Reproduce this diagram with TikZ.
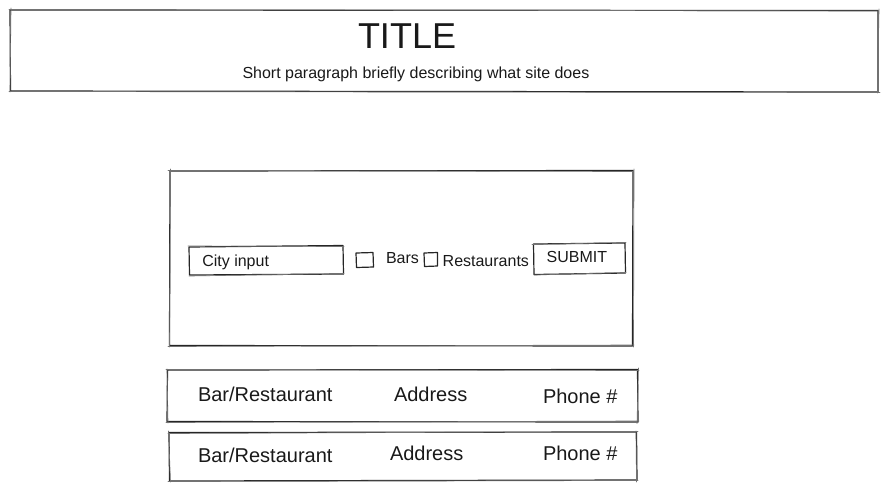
\documentclass[tikz,border=0pt]{standalone}
\usepackage{fontspec}
\setmainfont{Liberation Sans}
\begin{document}
\begin{tikzpicture}[x=0.75pt,y=-0.75pt,
  sk/.style={draw=black!85,line width=0.9pt,line join=round,line cap=round},
  sk2/.style={draw=black!55,line width=0.5pt,line cap=round},
  txt/.style={anchor=base west,inner sep=0pt,outer sep=0pt,text=black!90},
  bigt/.style={txt,font=\fontsize{27}{30}\selectfont},
  midt/.style={txt,font=\fontsize{12}{14}\selectfont},
  rowt/.style={txt,font=\fontsize{15}{18}\selectfont}]
\useasboundingbox (0,0) rectangle (889,490);
% title box
\draw[sk] (10,10) -- (878,10.5) -- (878,92) -- (10.5,91) -- cycle;
\draw[sk2] (9,9.5) -- (879,11) (879,9) -- (877.5,93) (880,92.5) -- (9,91.5) (10,92) -- (11,8);
\node[bigt] (title) at (358,48.3) {TITLE};
\node[midt] (sub) at (242.5,78) {Short paragraph briefly describing what site does};
% form box
\draw[sk] (170,171) -- (633,170.5) -- (632.5,346) -- (169.5,345.5) -- cycle;
\draw[sk2] (168,170.5) -- (634,171.5) (634,169) -- (633.5,347) (634,345) -- (168,346.5) (169.5,347) -- (170.5,169);
% city input
\draw[sk] (189,247) -- (343,245.5) -- (343.5,274) -- (189.5,275) -- cycle;
\draw[sk2] (188,246) -- (344,246.5) (189,276) -- (344,273.5);
\node[midt] (city) at (202.3,266) {City input};
% checkboxes
\draw[sk] (356,253) -- (373,252.5) -- (373.5,267) -- (356.5,267.5) -- cycle;
\node[midt] (bars) at (386,263.3) {Bars};
\draw[sk] (424,253) -- (437.5,252.5) -- (437.5,266) -- (424.5,266.5) -- cycle;
\node[midt] (rest) at (442.7,266) {Restaurants};
% submit
\draw[sk] (533.5,244) -- (625,243) -- (625.5,273) -- (534,274.5) -- cycle;
\draw[sk2] (532,244.5) -- (626,242.5) (534,275) -- (626,272.5);
\node[midt] (submit) at (546.7,262.7) {SUBMIT};
% row 1
\draw[sk] (167.5,370) -- (637.5,369.5) -- (638,422) -- (167,421.5) -- cycle;
\draw[sk2] (166,369.5) -- (639,370.5) (638.5,368) -- (637,423.5) (639,421) -- (166,422.5) (168,423) -- (167,369);
\node[rowt] (r1n) at (198,401.7) {Bar/Restaurant};
\node[rowt] (r1a) at (394,401.7) {Address};
\node[rowt] (r1p) at (543,403) {Phone \#};
% row 2
\draw[sk] (169,432.5) -- (636.5,432) -- (637,480) -- (169.5,481) -- cycle;
\draw[sk2] (168,433.5) -- (638,431.5) (636,431) -- (636.5,482) (638,480.5) -- (168,481.5) (170.5,482) -- (168.5,431);
\node[rowt] (r2n) at (198,462.3) {Bar/Restaurant};
\node[rowt] (r2a) at (390,460.5) {Address};
\node[rowt] (r2p) at (543,460.5) {Phone \#};
\end{tikzpicture}
\end{document}
